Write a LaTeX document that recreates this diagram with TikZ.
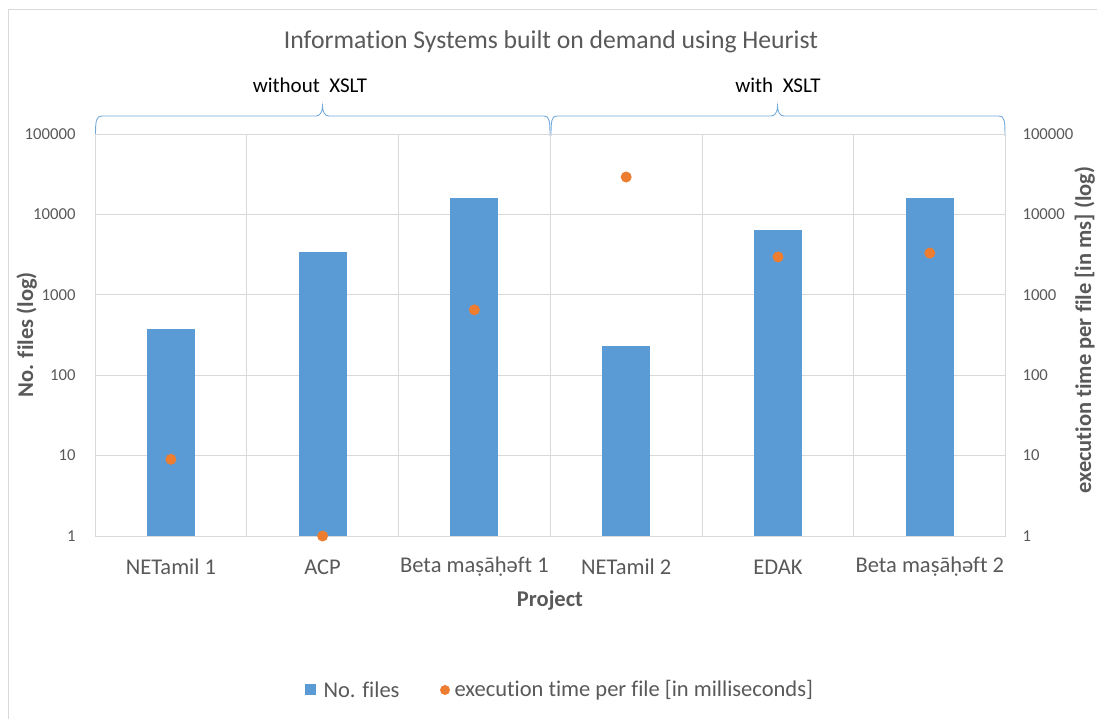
\documentclass[tikz,border=0pt]{standalone}
\usepackage{fontspec}
\setmainfont{Carlito}[Ligatures=NoCommon]
\usetikzlibrary{positioning}
\definecolor{barblue}{HTML}{5B9BD5}
\definecolor{dotorange}{HTML}{ED7D31}
\definecolor{txtgrey}{HTML}{595959}
\definecolor{gridgrey}{HTML}{D9D9D9}

\begin{document}
\begin{tikzpicture}[
    x=1pt, y=-1pt,
    ticklbl/.style={text=txtgrey, font=\fontsize{16.7}{19}\selectfont},
    catlbl/.style={text=txtgrey, font=\fontsize{22.5}{26}\selectfont},
    axtitle/.style={text=txtgrey, font=\fontsize{22.5}{26}\selectfont\bfseries},
    grplbl/.style={font=\fontsize{21}{24}\selectfont},
    gridline/.style={draw=gridgrey, line width=0.9pt},
    brace/.style={draw=barblue!85, line width=0.9pt},
    bar/.style={fill=barblue},
    dot/.style={fill=dotorange}
]
\useasboundingbox (0,0) rectangle (1097,718);
\clip (0,0) rectangle (1097,718);
\draw[gridgrey, line width=1pt] (8,9) rectangle (1130,740);

% title and groups
\node[text=txtgrey, font=\fontsize{25.7}{30}\selectfont] (title) at (551,42) {Information Systems built on demand using Heurist};
\node[grplbl] (grp1) at (310,85) {without~ XSLT};
\node[grplbl] (grp2) at (778,85) {with~ XSLT};

\draw[brace] (95.5,136) .. controls (95.5,121) and (96,116) .. (102,116) -- (316,116)
    .. controls (320,116) and (322.5,112) .. (322.5,106)
    .. controls (322.5,112) and (325,116) .. (329,116) -- (544,116)
    .. controls (549.5,116) and (550,121) .. (550,136);
\draw[brace] (551,136) .. controls (551,121) and (551.5,116) .. (557,116) -- (771,116)
    .. controls (775,116) and (777.5,112) .. (777.5,106)
    .. controls (777.5,112) and (780,116) .. (784,116) -- (999,116)
    .. controls (1004.5,116) and (1005,121) .. (1005,136);

% grid and axis ticks
\foreach \v [count=\e from 0] in {1,10,100,1000,10000,100000} {
    \draw[gridline] (95,{536-80.4*\e}) -- (1005.6,{536-80.4*\e});
    \node[ticklbl, anchor=east] (ltick\e) at (79,{536-80.4*\e}) {\v};
    \node[ticklbl, anchor=west] (rtick\e) at (1019,{536-80.4*\e}) {\v};
}
\foreach \i in {0,...,6}
    \draw[gridline] ({95+151.77*\i},134) -- ({95+151.77*\i},536);

% bars, dots and category labels (heights as log10 of the values)
\foreach \x/\n/\b/\d [count=\i] in {
    170.9/NETamil 1/2.575/0.954,
    322.6/ACP/3.531/0,
    474.4/Beta maṣāḥəft 1/4.204/2.813,
    626.2/NETamil 2/2.365/4.465,
    778.0/EDAK/3.806/3.471,
    929.8/Beta maṣāḥəft 2/4.204/3.519} {
    \fill[bar] ({\x-24},536) rectangle ({\x+24},{536-80.4*\b});
    \fill[dot] (\x,{536-80.4*\d}) circle (5.5);
    \node[catlbl] (cat\i) at (\x,567) {\n};
}

% axis titles
\node[axtitle] (xtitle) at (550,600) {Project};
\node[axtitle, rotate=90, anchor=base] (ytitle) at (33,335) {No. files (log)};
\node[axtitle, rotate=90, anchor=base] (y2title) at (1091,330) {execution time per file [in ms] (log)};

% legend
\node[catlbl, anchor=west] (leg1) at (320,690) {No. files};
\fill[bar] (305,684) rectangle (316,695);
\node[catlbl, anchor=west] (leg2) at (451,690) {execution time per file [in milliseconds]};
\fill[dot] (445,690) circle (5);
\end{tikzpicture}
\end{document}
